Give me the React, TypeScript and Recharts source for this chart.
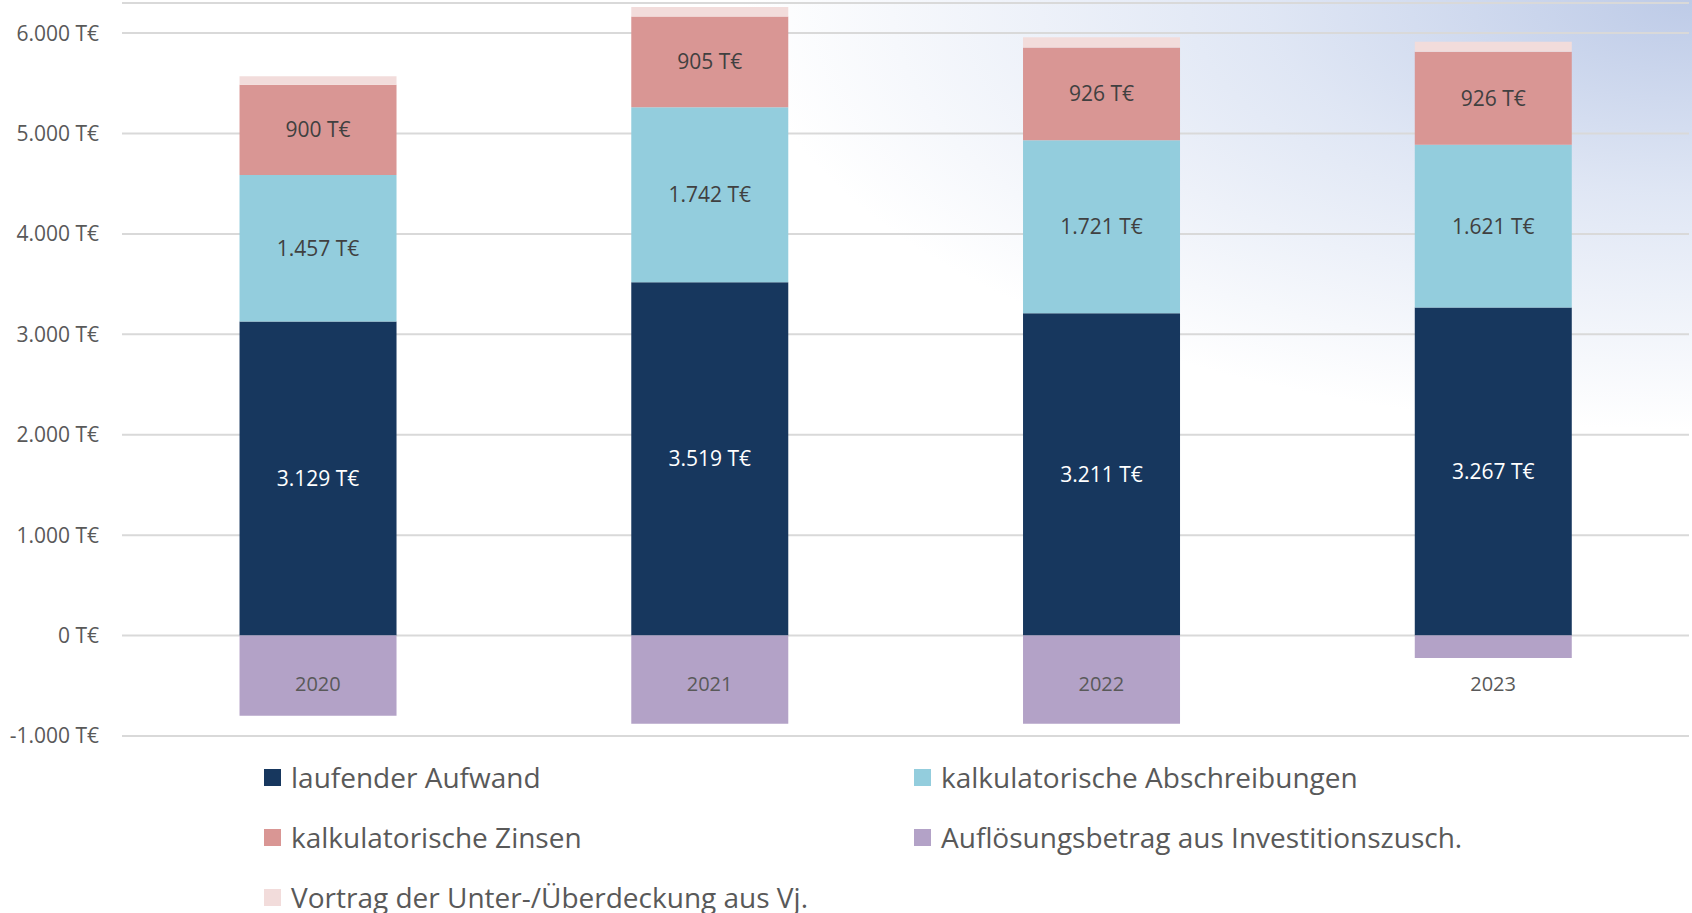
import React from 'react'
import { BarChart, Bar, XAxis, YAxis, CartesianGrid, LabelList } from 'recharts'

const years = ['2020', '2021', '2022', '2023']
const laufenderAufwand = [3129, 3519, 3211, 3267]
const kalkAbschreibungen = [1457, 1742, 1721, 1621]
const kalkZinsen = [900, 905, 926, 926]
const vortrag = [85, 95, 100, 100]
const aufloesung = [-798, -878, -878, -222]
const yTicks = [-1000, 0, 1000, 2000, 3000, 4000, 5000, 6000]

const series = [
  { key: 'laufend', name: 'laufender Aufwand', color: '#17375e', values: laufenderAufwand, label: '#ffffff' },
  { key: 'abschr', name: 'kalkulatorische Abschreibungen', color: '#93cddd', values: kalkAbschreibungen, label: '#404040' },
  { key: 'zinsen', name: 'kalkulatorische Zinsen', color: '#d99694', values: kalkZinsen, label: '#404040' },
  { key: 'aufl', name: 'Auflösungsbetrag aus Investitionszusch.', color: '#b3a2c7', values: aufloesung, label: null },
  { key: 'vortrag', name: 'Vortrag der Unter-/Überdeckung aus Vj.', color: '#f2dcdb', values: vortrag, label: null },
]

const data = years.map((year, i) => {
  const row: Record<string, string | number> = { year }
  series.forEach(s => { row[s.key] = s.values[i] })
  return row
})

const fmt = (v: number) => {
  const s = Math.abs(v).toString().replace(/\B(?=(\d{3})+(?!\d))/g, '.')
  return (v < 0 ? '-' : '') + s + ' T€'
}

const font = '"Open Sans", sans-serif'

// positive ones stack bottom-up, the negative one goes below zero (stackOffset sign)
const stackOrder = ['laufend', 'abschr', 'zinsen', 'vortrag', 'aufl']

const legendOrder = [
  ['laufend', 'abschr'],
  ['zinsen', 'aufl'],
  ['vortrag'],
]

// year labels sit inside the negative area, just under the zero line
const YearTick = (props: any) => {
  const { x, y, payload } = props
  return (
    <text x={x} y={y - 53} textAnchor="middle" dominantBaseline="central" fill="#595959" fontSize={20} fontFamily={font}>
      {payload.value}
    </text>
  )
}

export default function App() {
  return (
    <div
      style={{
        position: 'absolute',
        left: 0,
        top: 0,
        width: 1692,
        height: 913,
        fontFamily: font,
        background:
          'radial-gradient(ellipse 950px 430px at 100% 0%, rgba(186,200,230,0.95) 0%, rgba(210,220,240,0.7) 45%, rgba(255,255,255,0) 100%), #ffffff',
        overflow: 'hidden',
      }}
    >
      <BarChart
        width={1692}
        height={913}
        data={data}
        stackOffset="sign"
        barCategoryGap="30%"
        margin={{ top: 3, right: 3, bottom: 147, left: 0 }}
      >
        <CartesianGrid vertical={false} stroke="#d9d9d9" strokeWidth={2} />
        <XAxis
          dataKey="year"
          axisLine={false}
          tickLine={false}
          tickSize={0}
          tickMargin={0}
          height={30}
          interval={0}
          tick={<YearTick />}
        />
        <YAxis
          domain={[-1000, 6300]}
          ticks={yTicks}
          interval={0}
          width={122}
          axisLine={false}
          tickLine={false}
          tickSize={0}
          tickMargin={23}
          tickFormatter={fmt}
          tick={{ fill: '#595959', fontSize: 21, fontFamily: font }}
        />
        {stackOrder.map(k => {
          const s = series.find(x => x.key === k)!
          return (
            <Bar key={k} dataKey={k} name={s.name} stackId="a" fill={s.color} isAnimationActive={false}>
              {s.label && (
                <LabelList
                  dataKey={k}
                  position="center"
                  formatter={(v: any) => fmt(Number(v))}
                  fill={s.label}
                  fontSize={21}
                  fontFamily={font}
                />
              )}
            </Bar>
          )
        })}
      </BarChart>
      <div style={{ position: 'absolute', left: 264, top: 747, width: 1300 }}>
        {legendOrder.map((row, ri) => (
          <div key={ri} style={{ display: 'flex', height: 60, alignItems: 'center' }}>
            {row.map(k => {
              const s = series.find(x => x.key === k)!
              return (
                <div key={k} style={{ display: 'flex', alignItems: 'center', width: 650 }}>
                  <span style={{ width: 17, height: 17, background: s.color, display: 'inline-block', marginRight: 10 }} />
                  <span style={{ fontSize: 28, color: '#595959' }}>{s.name}</span>
                </div>
              )
            })}
          </div>
        ))}
      </div>
    </div>
  )
}
